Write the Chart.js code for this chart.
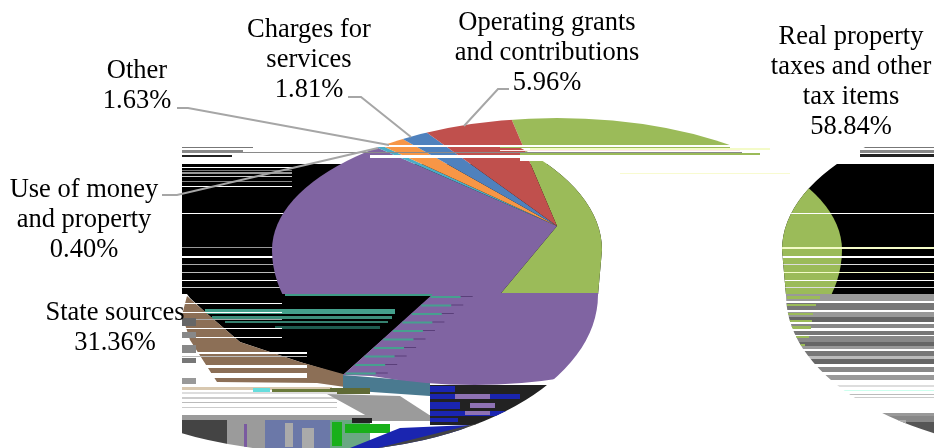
<!DOCTYPE html>
<html><head><meta charset="utf-8">
<style>html,body{margin:0;padding:0;background:#fff}canvas{display:block}</style>
<script src="https://cdn.jsdelivr.net/npm/chart.js@4"></script>
</head><body><canvas id="c" width="934" height="448"></canvas>
<script>
const categories=["Real property taxes and other tax items","State sources","Use of money and property","Other","Charges for services","Operating grants and contributions"];
const values=[58.84,31.36,0.40,1.63,1.81,5.96];
const colors=["#9BBB59","#8064A2","#4BACC6","#F79646","#4F81BD","#C0504D"];
const labelLines=[["Real property","taxes and other","tax items"],["State sources"],["Use of money","and property"],["Other"],["Charges for","services"],["Operating grants","and contributions"]];
const labelPlace=[[851,44],[115,320],[84,197],[137,78],[309,37],[547,30]];
const leaders=[[[177,108],[188,108],[389,145]],[[348,97],[361,97],[411,137]],[[509,89],[498,89],[464,126]],[[162,195],[177,195],[378,148]]];

const APEX={x:557,y:226,rx:285,ry:130,grow:1.5};
const RIM={x:557,y:250,rx:285,top:132,bottom:165};
function blob(p,cx){p.moveTo(cx-286,250);p.ellipse(cx,250,286,146,0,Math.PI,2*Math.PI,false);
  p.lineTo(cx+282,295);p.ellipse(cx,295,282,157,0,0,Math.PI,false);p.closePath();}
function R(c,x,y,w,h,col){c.fillStyle=col;c.fillRect(x,y,w,h);}
function poly(c,pts,col){c.fillStyle=col;c.beginPath();pts.forEach((p,i)=>i?c.lineTo(p[0],p[1]):c.moveTo(p[0],p[1]));c.closePath();c.fill();}
function blobs(){const p=new Path2D();blob(p,316);blob(p,1068);return p;}

function backdrop(c){
  c.save();c.beginPath();c.rect(182,146,752,302);c.clip();c.clip(blobs());
  R(c,182,164,752,130,"#000");
  [[147,1,253,"#777"],[150,3,243,"#888"],[155,2,232,"#222"]].forEach(r=>R(c,182,r[0],r[2]-182,r[1],r[3]));
  [[147,1,"#777"],[150,3,"#888"],[154,3,"#222"]].forEach(r=>R(c,860,r[0],74,r[1],r[2]));
  [[167,1,"#fff"],[170,1,"#777"],[172,2,"#999"],[176,1,"#ccc"],[181,1,"#888"],[186,1,"#fff"],[213,1,"#fff"],[247,1,"#999"],[256,2,"#fff"],[264,1,"#aaa"],[272,1,"#bbb"],[280,1,"#fff"],[287,1,"#ccc"]].forEach(r=>R(c,182,r[0],110,r[1],r[2]));
  R(c,182,294,752,154,"#fff");
  poly(c,[[187,294],[434,294],[343,375],[300,362],[240,342],[205,312],[190,298]],"#000");
  [[293,3,285,440,"#3f9a86"],[309,5,205,395,"#44a08c"],[316,3,212,392,"#3d8f7c"],[321,2,225,388,"#35806f"],[326,3,275,380,"#1f5c50"]].forEach(r=>R(c,r[2],r[0],r[3]-r[2],r[1],r[4]));
  poly(c,[[187,296],[205,312],[240,342],[300,362],[343,374],[345,387],[317,383],[217,382],[190,340],[182,315]],"#8C6F56");
  [[303,1,"#fff"],[312,1,"#fff"],[319,1,"#aaa"],[328,1,"#fff"],[337,1,"#fff"],[352,2,"#fff"],[356,1,"#bbb"],[365,3,"#fff"],[373,5,"#fff"]].forEach(r=>R(c,182,r[0],r[0]>350?125:100,r[1],r[2]));
  [[318,8,"#666"],[332,6,"#888"],[345,8,"#888"],[358,5,"#777"],[378,6,"#999"]].forEach(r=>R(c,182,r[0],14,r[1],r[2]));
  poly(c,[[343,375],[430,382],[430,396],[343,390]],"#4A7A90");
  R(c,182,387,150,3,"#d8c8b0");R(c,253,388,17,4,"#66dddd");R(c,272,389,60,3,"#6a7a3a");R(c,330,388,40,6,"#5F6A35");
  [[392,2,"#ddd"],[397,2,"#ccc"],[402,1,"#bbb"],[407,1,"#ccc"]].forEach(r=>R(c,182,r[0],155,r[1],r[2]));
  poly(c,[[327,394],[400,396],[437,420],[367,416]],"#9B9B9B");
  R(c,182,415,250,6,"#9B9B9B");
  R(c,430,385,150,40,"#222");
  [[386,6,430,455],[394,5,430,520],[402,7,430,460],[411,5,430,510],[418,4,430,458]].forEach(r=>R(c,r[2],r[0],r[3]-r[2],r[1],"#1A25B0"));
  [[394,5,455,490],[403,5,470,495],[411,4,465,490]].forEach(r=>R(c,r[2],r[0],r[3]-r[2],r[1],"#8E72B4"));
  R(c,182,420,45,30,"#444");R(c,227,420,38,30,"#9B9B9B");R(c,244,424,3,24,"#7a5aa0");
  R(c,265,420,65,30,"#6B78A8");R(c,285,423,8,24,"#aaa");R(c,302,428,12,20,"#aaa");
  R(c,330,420,40,30,"#6AA883");R(c,332,422,10,24,"#19B01A");R(c,345,424,45,9,"#19B01A");R(c,352,418,20,5,"#222");
  poly(c,[[345,450],[400,428],[470,425],[450,438],[380,450]],"#1A25B0");
  poly(c,[[370,450],[470,425],[600,400],[600,450]],"#444");
  const rows=[[294,7,"#999"],[301,2,"#fff"],[303,7,"#777"],[310,2,"#fff"],[312,5,"#999"],[317,5,"#666"],[322,2,"#fff"],[324,4,"#888"],[328,3,"#fff"],[331,4,"#777"],[335,1,"#fff"],[336,6,"#888"],[342,4,"#666"],[346,3,"#999"],[349,2,"#fff"],[351,5,"#777"],[356,3,"#bbb"],[359,5,"#666"],[364,3,"#fff"],[367,5,"#888"],[372,3,"#fff"],[375,5,"#999"],[380,5,"#fff"],[385,2,"#ddd"],[387,3,"#fff"],[390,1,"#cfe"],[391,3,"#fff"],[394,1,"#bbb"],[395,2,"#fff"],[397,1,"#ccc"],[398,6,"#fff"],[413,3,"#999"],[416,6,"#888"],[422,26,"#555"]];
  rows.forEach(r=>R(c,770,r[0],164,r[1],r[2]));
  [[296,3,820],[304,2,816],[313,2,813],[320,2,812],[326,3,811],[336,2,809],[344,2,805]].forEach(r=>R(c,787,r[0],r[2]-787,r[1],"#9BBB59"));
  R(c,898,420,8,18,"#aaa");
  c.restore();
}
function overlay(c){
  c.save();c.beginPath();c.rect(182,146,752,302);c.clip();c.clip(blobs());
  c.fillStyle=colors[1];c.beginPath();c.moveTo(434,293);c.lineTo(620,293);c.lineTo(620,372);c.lineTo(563,378);
  c.quadraticCurveTo(470,393,372,376);c.lineTo(343,375);c.closePath();c.fill();
  for(let y=296;y<376;y+=8.5){const x=434-(y-293)*91/82;
    R(c,x,y,30,2,"#47A08F");R(c,x+30,y,12,1,"#5a3f7a");}
  c.restore();
  c.save();c.beginPath();c.rect(782,164,152,130);c.clip();c.clip(blobs());
  [[213,1,"#fff"],[247,2,"#F4FBC8"],[256,2,"#fff"],[264,1,"#ddd"],[272,1,"#F4FBC8"],[280,1,"#fff"],[287,1,"#ddd"]].forEach(r=>{R(c,782,r[0],152,r[1],r[2]);});
  c.restore();
  R(c,320,145,470,2,"#fff");R(c,500,147,230,1,"#9BBB59");R(c,182,152,560,1,"#8a8a8a");
  R(c,370,155,420,3,"#fff");R(c,530,148,240,2,"#F4FBC8");R(c,500,150,240,1,"#FFE8E8");
  R(c,520,153,240,2,"#9BBB59");R(c,520,158,240,3,"#fff");R(c,620,173,170,1,"#F8FBD0");
}
const pieStage={id:"pieStage",
  beforeDatasetsDraw(chart){
    const c=chart.ctx,a=chart.getDatasetMeta(0).data[0],S=a.outerRadius;
    backdrop(c);
    c.save();
    const clip=new Path2D();clip.rect(0,0,934,146);blob(clip,316);blob(clip,1068);
    c.beginPath();c.rect(182,0,752,294);c.clip();c.clip(clip);
    c.beginPath();c.ellipse(RIM.x,RIM.y,RIM.rx,RIM.top,0,Math.PI,2*Math.PI,false);
    c.ellipse(RIM.x,RIM.y,RIM.rx,RIM.bottom,0,0,Math.PI,false);c.closePath();c.clip();
    c.translate(APEX.x,APEX.y);c.scale(APEX.grow*APEX.rx/S,APEX.grow*APEX.ry/S);c.translate(-a.x,-a.y);
  },
  afterDatasetsDraw(chart){
    const c=chart.ctx;c.restore();overlay(c);
    c.strokeStyle="#A6A6A6";c.lineWidth=2;
    leaders.forEach(l=>{c.beginPath();l.forEach((p,i)=>i?c.lineTo(p[0],p[1]):c.moveTo(p[0],p[1]));c.stroke();});
    c.fillStyle="#000";c.font='26.5px "Liberation Serif"';c.textAlign="center";c.textBaseline="alphabetic";
    values.forEach((v,i)=>{const [x,y]=labelPlace[i];const ls=[...labelLines[i],v.toFixed(2)+"%"];
      ls.forEach((t,j)=>c.fillText(t,x,y+j*30));});
  }};
new Chart(document.getElementById("c"),{type:"pie",
  data:{labels:categories,datasets:[{data:values,backgroundColor:colors,borderWidth:0,clip:false}]},
  options:{responsive:false,animation:false,events:[],rotation:-11,layout:{padding:0},
    plugins:{legend:{display:false},tooltip:{enabled:false}}},
  plugins:[pieStage]});
</script></body></html>
